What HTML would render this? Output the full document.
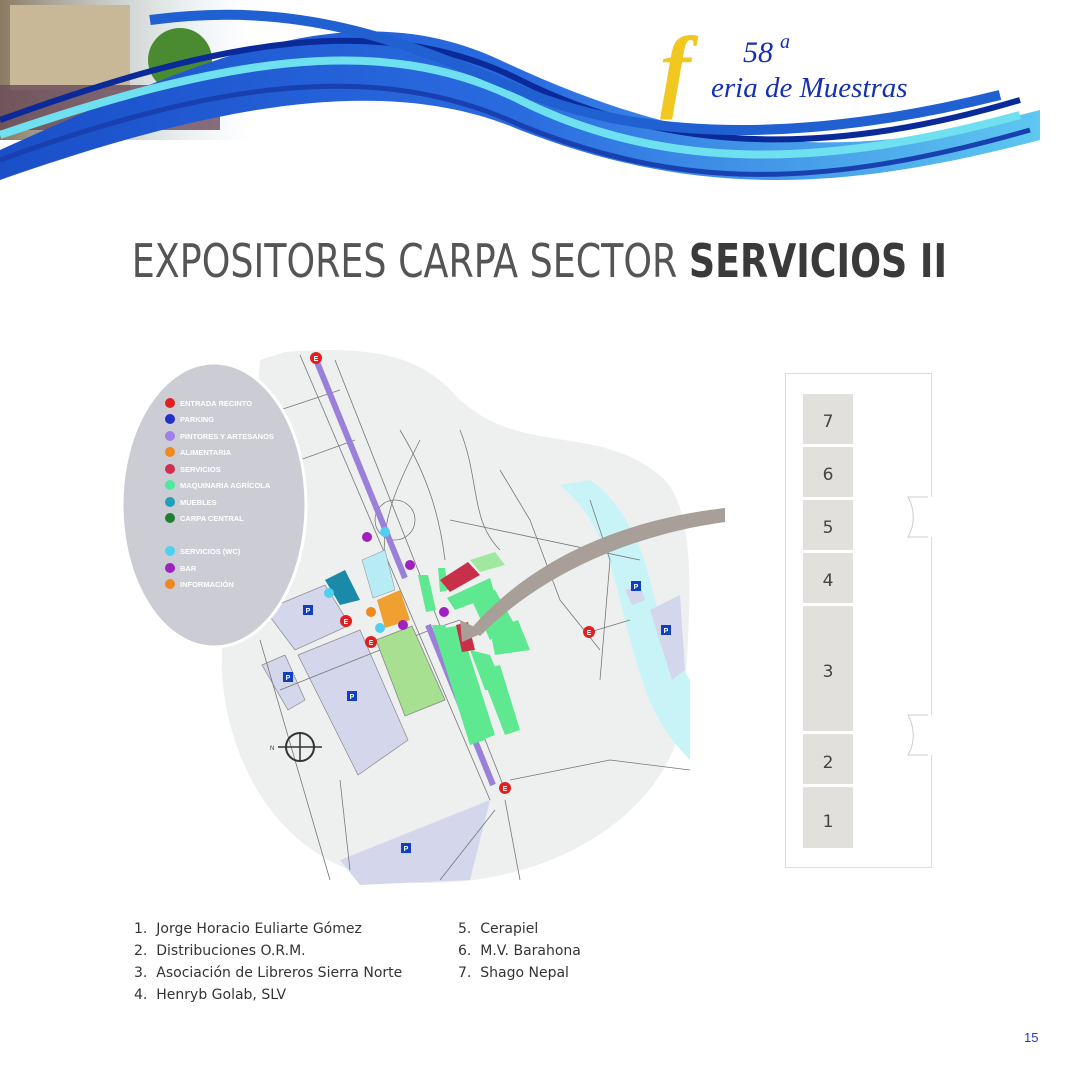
<!DOCTYPE html>
<html><head><meta charset="utf-8"><style>
body{margin:0;width:1080px;height:1080px;background:#fff;overflow:hidden;position:relative;font-family:"Liberation Sans",sans-serif}
.t{position:absolute;left:0;width:1080px;top:234px;text-align:center;font-size:46px;color:#555;font-family:"DejaVu Sans Condensed","Liberation Sans",sans-serif;font-weight:300;transform:scaleX(0.88);transform-origin:535px 0;white-space:nowrap}
.t b{color:#3a3a3a;font-weight:bold}
.list{position:absolute;font-size:14px;color:#333;line-height:22px;font-family:"DejaVu Sans","Liberation Sans",sans-serif}
</style></head><body>
<svg width="1080" height="1080" style="position:absolute;left:0;top:0">
<defs>
<linearGradient id="w1" x1="0" x2="1"><stop offset="0" stop-color="#1a4fc8"/><stop offset="0.5" stop-color="#2a6be0"/><stop offset="1" stop-color="#5ec8f0"/></linearGradient>
<linearGradient id="ph" x1="0" x2="1"><stop offset="0" stop-color="#8a7a60"/><stop offset="1" stop-color="#b8d8e8" stop-opacity="0"/></linearGradient>
</defs>
<rect x="0" y="0" width="250" height="140" fill="url(#ph)"/>
<rect x="10" y="5" width="120" height="85" fill="#c8b898"/>
<circle cx="180" cy="60" r="32" fill="#4a8a30"/>
<rect x="0" y="85" width="220" height="45" fill="#6a4a5a" opacity="0.8"/>
<path d="M0,150 C200,60 350,-10 500,60 C650,130 800,170 1000,120 L1040,110 L1040,140 C850,190 700,200 520,130 C380,70 200,110 0,180 Z" fill="url(#w1)"/>
<path d="M0,120 C220,40 380,10 520,80 C660,150 820,160 1020,100" stroke="#0a2a9a" stroke-width="6" fill="none"/>
<path d="M0,135 C220,60 380,30 520,100 C660,170 820,170 1020,115" stroke="#6fe0f0" stroke-width="8" fill="none"/>
<path d="M150,20 C300,0 400,40 520,90 C650,145 820,140 1000,95" stroke="#2060d0" stroke-width="10" fill="none"/>
<path d="M0,160 C220,80 380,60 520,125 C680,190 820,190 1030,130" stroke="#1840b0" stroke-width="5" fill="none"/>
<text x="660" y="100" font-family="Liberation Serif" font-style="italic" font-weight="bold" font-size="92" fill="#f0c820">f</text>
<text x="743" y="62" font-family="Liberation Serif" font-style="italic" font-size="30" fill="#1530b0">58</text>
<text x="780" y="48" font-family="Liberation Serif" font-style="italic" font-size="20" fill="#1530b0">a</text>
<text x="711" y="97" font-family="Liberation Serif" font-style="italic" font-size="29" fill="#1530b0">eria de Muestras</text>
<path d="M285,352 C370,345 420,355 455,395 C520,460 600,420 665,480 C700,520 688,620 685,700 C680,800 570,882 430,883 C300,885 240,790 225,700 C215,640 230,600 245,560 L260,360 Z" fill="#eef0f0"/>
<path d="M560,485 C600,520 610,560 620,600 C640,680 650,720 690,760 L690,680 C670,650 660,620 650,580 C640,540 620,500 590,480 Z" fill="#c8f4f8"/>
<polygon points="265,610 325,585 350,625 295,650" fill="#d4d6ec" stroke="#888" stroke-width="0.7"/>
<polygon points="298,655 360,630 408,740 358,775" fill="#d4d6ec" stroke="#888" stroke-width="0.7"/>
<polygon points="262,665 285,655 305,700 288,710" fill="#d4d6ec" stroke="#888" stroke-width="0.7"/>
<polygon points="340,860 490,800 470,880 360,885" fill="#d4d6ec"/>
<polygon points="650,610 680,595 685,670 672,680" fill="#d4d6ec"/>
<polygon points="625,590 640,585 645,600 632,605" fill="#d4d6ec"/>
<g stroke="#777" stroke-width="0.8" fill="none">
<path d="M300,355 L490,800"/><path d="M335,360 L505,790"/>
<path d="M280,410 L340,390"/><path d="M300,460 L355,440"/>
<path d="M420,440 C400,480 380,520 385,560"/><path d="M400,430 C430,480 440,520 445,560"/>
<path d="M450,520 L640,560"/><path d="M460,430 C480,480 470,520 500,550"/>
<path d="M500,470 L530,520 L560,600 L600,650"/><path d="M590,500 L610,560 L600,680"/>
<path d="M260,640 L330,880"/><path d="M340,780 L350,870"/>
<path d="M505,800 L520,880"/><path d="M495,810 L440,880"/>
<path d="M510,780 L610,760 L690,770"/>
<path d="M280,690 L430,630 L460,620"/>
<path d="M590,632 L630,620"/>
</g>
<circle cx="395" cy="520" r="20" fill="none" stroke="#777" stroke-width="0.8"/>
<path d="M317,362 L405,578" stroke="#9a80d8" stroke-width="6"/>
<path d="M428,625 L493,785" stroke="#9a80d8" stroke-width="6"/>
<polygon points="376,640 412,626 445,700 405,716" fill="#a6e090" stroke="#888" stroke-width="0.8"/>
<polygon points="362,560 385,550 395,590 373,598" fill="#b8ecf4" stroke="#888" stroke-width="0.5"/>
<polygon points="325,580 345,570 360,600 340,605" fill="#1a8aa8"/>
<polygon points="377,600 400,590 410,620 385,628" fill="#f0a030"/>
<polygon points="438,568 445,568 448,590 440,592" fill="#5ee890"/>
<polygon points="418,575 428,575 436,610 426,612" fill="#5ee890"/>
<polygon points="440,580 468,562 480,575 450,592" fill="#c8304a"/>
<polygon points="447,598 490,578 495,595 455,610" fill="#5ee890"/>
<polygon points="468,592 495,590 515,625 490,640" fill="#5ee890"/>
<polygon points="490,630 518,620 530,650 495,655" fill="#5ee890"/>
<polygon points="432,625 445,625 485,740 470,745" fill="#5ee890"/>
<polygon points="445,628 460,625 495,735 482,740" fill="#5ee890"/>
<polygon points="456,625 468,622 475,650 462,652" fill="#c8304a"/>
<polygon points="470,650 490,655 505,690 485,690" fill="#5ee890"/>
<polygon points="480,670 500,665 520,730 505,735" fill="#5ee890"/>
<polygon points="470,560 495,552 505,565 480,572" fill="#a0e8a0"/>
<g font-size="7" font-weight="bold" fill="#fff" text-anchor="middle">
<circle cx="316" cy="358" r="6" fill="#e02020"/><text x="316" y="361">E</text>
<circle cx="346" cy="621" r="6" fill="#e02020"/><text x="346" y="624">E</text>
<circle cx="371" cy="642" r="6" fill="#e02020"/><text x="371" y="645">E</text>
<circle cx="589" cy="632" r="6" fill="#e02020"/><text x="589" y="635">E</text>
<circle cx="505" cy="788" r="6" fill="#e02020"/><text x="505" y="791">E</text>
<circle cx="367" cy="537" r="5" fill="#a020c0"/><circle cx="410" cy="565" r="5" fill="#a020c0"/><circle cx="444" cy="612" r="5" fill="#a020c0"/><circle cx="403" cy="625" r="5" fill="#a020c0"/>
<circle cx="385" cy="532" r="5" fill="#50d0f0"/><circle cx="329" cy="593" r="5" fill="#50d0f0"/><circle cx="380" cy="628" r="5" fill="#50d0f0"/>
<circle cx="371" cy="612" r="5" fill="#f08820"/>
<rect x="303" y="605" width="10" height="10" fill="#1040c0"/><text x="308" y="613">P</text>
<rect x="283" y="672" width="10" height="10" fill="#1040c0"/><text x="288" y="680">P</text>
<rect x="347" y="691" width="10" height="10" fill="#1040c0"/><text x="352" y="699">P</text>
<rect x="401" y="843" width="10" height="10" fill="#1040c0"/><text x="406" y="851">P</text>
<rect x="631" y="581" width="10" height="10" fill="#1040c0"/><text x="636" y="589">P</text>
<rect x="661" y="625" width="10" height="10" fill="#1040c0"/><text x="666" y="633">P</text>
</g>
<circle cx="300" cy="747" r="14" fill="none" stroke="#333" stroke-width="2"/>
<path d="M278,747 L322,747 M300,733 L300,761" stroke="#333" stroke-width="1.5"/>
<text x="270" y="750" font-size="6" fill="#333">N</text>
<ellipse cx="214" cy="505" rx="92" ry="142" fill="#ccccd4" stroke="#fff" stroke-width="3"/>
<g font-size="7.5" fill="#fff" font-weight="bold">
<circle cx="170" cy="403" r="5" fill="#e02020"/><text x="180" y="406">ENTRADA RECINTO</text>
<circle cx="170" cy="419" r="5" fill="#2030c8"/><text x="180" y="422">PARKING</text>
<circle cx="170" cy="436" r="5" fill="#a080e8"/><text x="180" y="439">PINTORES Y ARTESANOS</text>
<circle cx="170" cy="452" r="5" fill="#f08820"/><text x="180" y="455">ALIMENTARIA</text>
<circle cx="170" cy="469" r="5" fill="#d03050"/><text x="180" y="472">SERVICIOS</text>
<circle cx="170" cy="485" r="5" fill="#50e8a0"/><text x="180" y="488">MAQUINARIA AGRÍCOLA</text>
<circle cx="170" cy="502" r="5" fill="#20a0b8"/><text x="180" y="505">MUEBLES</text>
<circle cx="170" cy="518" r="5" fill="#208030"/><text x="180" y="521">CARPA CENTRAL</text>
<circle cx="170" cy="551" r="5" fill="#50d0f0"/><text x="180" y="554">SERVICIOS (WC)</text>
<circle cx="170" cy="568" r="5" fill="#a020c0"/><text x="180" y="571">BAR</text>
<circle cx="170" cy="584" r="5" fill="#f08820"/><text x="180" y="587">INFORMACIÓN</text>
</g>
<path d="M725,508 C620,520 530,560 470,630 L480,636 C540,575 630,535 725,522 Z" fill="#a8a098"/>
<polygon points="462,642 460,620 485,632" fill="#a8a098"/>
<rect x="785.5" y="373.5" width="146" height="494" fill="#fff" stroke="#ddd"/>
<g fill="#e2e0dd">
<rect x="803" y="394" width="50" height="50"/><rect x="803" y="447" width="50" height="50"/><rect x="803" y="500" width="50" height="50"/><rect x="803" y="553" width="50" height="50"/><rect x="803" y="606" width="50" height="125"/><rect x="803" y="734" width="50" height="50"/><rect x="803" y="787" width="50" height="61"/>
</g>
<g font-size="17" fill="#444" text-anchor="middle" font-family="DejaVu Sans">
<text x="828" y="427">7</text><text x="828" y="480">6</text><text x="828" y="533">5</text><text x="828" y="586">4</text><text x="828" y="677">3</text><text x="828" y="768">2</text><text x="828" y="827">1</text>
</g>
<g fill="none" stroke="#ccc"><path d="M928,497 L908,497 C915,510 915,525 908,537 L928,537"/><path d="M928,715 L908,715 C915,728 915,743 908,755 L928,755"/></g>
<rect x="929" y="497" width="4" height="40" fill="#fff"/><rect x="929" y="715" width="4" height="40" fill="#fff"/>
</svg>
<div class="t">EXPOSITORES CARPA SECTOR <b>SERVICIOS II</b></div>
<div class="list" style="left:134px;top:918px">1.&nbsp; Jorge Horacio Euliarte Gómez<br>2.&nbsp; Distribuciones O.R.M.<br>3.&nbsp; Asociación de Libreros Sierra Norte<br>4.&nbsp; Henryb Golab, SLV</div>
<div class="list" style="left:458px;top:918px">5.&nbsp; Cerapiel<br>6.&nbsp; M.V. Barahona<br>7.&nbsp; Shago Nepal</div>
<div style="position:absolute;left:1024px;top:1030px;font-size:13px;color:#2040c0">15</div>
</body></html>
